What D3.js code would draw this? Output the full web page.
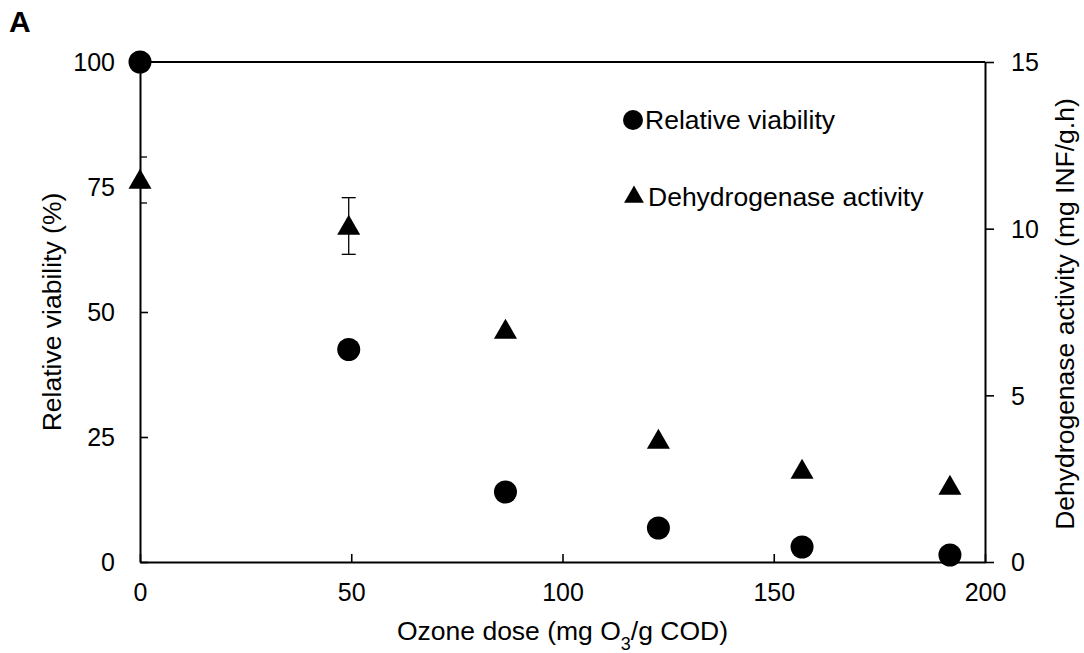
<!DOCTYPE html>
<html>
<head>
<meta charset="utf-8">
<script src="https://cdn.jsdelivr.net/npm/d3@7"></script>
<style>
  body { margin: 0; background: #fff; }
  text { font-family: "Liberation Sans", Arial, sans-serif; fill: #000; }
</style>
</head>
<body>
<div id="chart"></div>
<script>
// data
var doses = [0, 49.4, 86.5, 122.7, 156.7, 191.7];
var viability = [100, 42.5, 14, 6.8, 3.0, 1.4];
var dehydrogenase = [11.46, 10.08, 6.96, 3.66, 2.76, 2.28];
var dehydrogenaseErr = [0.69, 0.85, 0, 0, 0, 0];

var xTicks = [0, 50, 100, 150, 200];
var yLeftTicks = [0, 25, 50, 75, 100];
var yRightTicks = [0, 5, 10, 15];

// dimensions
var W = 1084, H = 653;
var margin = {top: 62, right: 99, bottom: 91, left: 140};
var width = W - margin.left - margin.right,
    height = H - margin.top - margin.bottom;

var svg = d3.select("#chart").append("svg")
  .attr("width", W)
  .attr("height", H);

var g = svg.append("g")
  .attr("transform", "translate(" + margin.left + "," + margin.top + ")");

var x = d3.scaleLinear().domain([0, 200]).range([0, width]);
var yL = d3.scaleLinear().domain([0, 100]).range([height, 0]);
var yR = d3.scaleLinear().domain([0, 15]).range([height, 0]);

// clip for error bars
svg.append("defs").append("clipPath").attr("id", "plotclip")
  .append("rect").attr("width", width).attr("height", height);

var fs = 25,      // tick labels
    tfs = 26.5;   // titles / legend

// top border
g.append("line")
  .attr("x1", 0).attr("x2", width)
  .attr("y1", 0).attr("y2", 0)
  .attr("stroke", "#000").attr("stroke-width", 2);

// x axis (ticks inward)
var xAxis = g.append("g")
  .attr("transform", "translate(0," + height + ")")
  .call(d3.axisBottom(x).tickValues(xTicks).tickSize(-8).tickPadding(0).tickSizeOuter(0));

xAxis.selectAll("text").attr("dy", null).attr("y", 39).style("font-size", fs + "px");

// left axis (ticks inward)
var leftAxis = g.append("g")
  .call(d3.axisLeft(yL).tickValues(yLeftTicks).tickSize(-8).tickSizeOuter(0));
leftAxis.selectAll("text").attr("x", -25).attr("dy", "0.35em").style("font-size", fs + "px");

// right axis (ticks outward)
var rightAxis = g.append("g")
  .attr("transform", "translate(" + width + ",0)")
  .call(d3.axisRight(yR).tickValues(yRightTicks).tickSize(9).tickSizeOuter(0));
rightAxis.selectAll("text").attr("x", 26).attr("dy", "0.35em").style("font-size", fs + "px");

[xAxis, leftAxis, rightAxis].forEach(function(a) {
  a.select(".domain").attr("stroke", "#000").attr("stroke-width", 2);
  a.selectAll(".tick line").attr("stroke", "#000").attr("stroke-width", 1.6);
  a.attr("font-family", null).attr("font-size", null);
});

// error bars
var errG = g.append("g").attr("clip-path", "url(#plotclip)");
doses.forEach(function(d, i) {
  var e = dehydrogenaseErr[i];
  if (!e) return;
  var cx = x(d), y0 = yR(dehydrogenase[i] - e), y1 = yR(dehydrogenase[i] + e);
  errG.append("line").attr("x1", cx).attr("x2", cx).attr("y1", y0).attr("y2", y1)
    .attr("stroke", "#000").attr("stroke-width", 1.3);
  [y0, y1].forEach(function(yy) {
    errG.append("line").attr("x1", cx - 7).attr("x2", cx + 7).attr("y1", yy).attr("y2", yy)
      .attr("stroke", "#000").attr("stroke-width", 1.3);
  });
});

// markers
var tri = d3.symbol().type(d3.symbolTriangle).size(230);

g.selectAll(".tri")
  .data(doses)
  .enter().append("path")
  .attr("class", "tri")
  .attr("d", tri)
  .attr("transform", function(d, i) { return "translate(" + x(d) + "," + (yR(dehydrogenase[i]) + 2) + ")"; })
  .attr("fill", "#000");

g.selectAll(".dot")
  .data(doses)
  .enter().append("circle")
  .attr("class", "dot")
  .attr("cx", function(d) { return x(d); })
  .attr("cy", function(d, i) { return yL(viability[i]); })
  .attr("r", 11.5)
  .attr("fill", "#000");

// legend
var legend = g.append("g").attr("transform", "translate(" + (633 - margin.left) + ",0)");
legend.append("circle").attr("cx", 0).attr("cy", 120 - margin.top).attr("r", 10).attr("fill", "#000");
legend.append("text").attr("x", 12).attr("y", 129 - margin.top).style("font-size", tfs + "px").text("Relative viability");
legend.append("path").attr("d", d3.symbol().type(d3.symbolTriangle).size(170))
  .attr("transform", "translate(1," + (197 - margin.top) + ")").attr("fill", "#000");
legend.append("text").attr("x", 15).attr("y", 206 - margin.top).style("font-size", tfs + "px").text("Dehydrogenase activity");

// axis titles
var xt = svg.append("text")
  .attr("x", margin.left + width / 2)
  .attr("y", 640)
  .attr("text-anchor", "middle")
  .style("font-size", tfs + "px");
xt.append("tspan").text("Ozone dose (mg O");
xt.append("tspan").attr("baseline-shift", "sub").style("font-size", "18px").text("3");
xt.append("tspan").text("/g COD)");

svg.append("text")
  .attr("transform", "translate(61," + (margin.top + height / 2) + ") rotate(-90)")
  .attr("text-anchor", "middle")
  .style("font-size", tfs + "px")
  .text("Relative viability (%)");

svg.append("text")
  .attr("transform", "translate(1074," + 314 + ") rotate(-90)")
  .attr("text-anchor", "middle")
  .style("font-size", tfs + "px")
  .text("Dehydrogenase activity (mg INF/g.h)");

// panel label
svg.append("text")
  .attr("x", 9).attr("y", 32)
  .style("font-size", "30px").style("font-weight", "bold")
  .text("A");
</script>
</body>
</html>
